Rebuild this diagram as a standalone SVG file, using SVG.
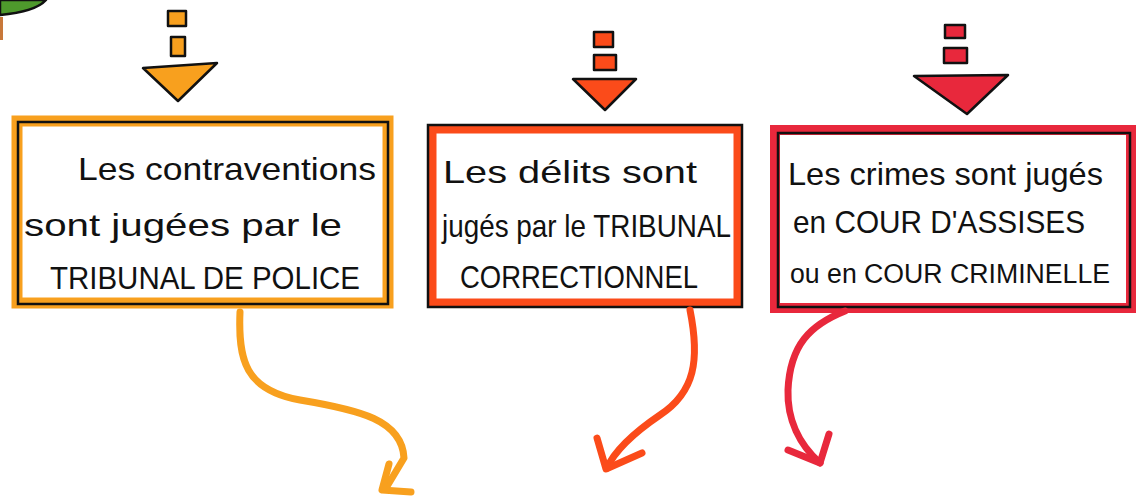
<svg xmlns="http://www.w3.org/2000/svg" width="1136" height="498" viewBox="0 0 1136 498">
<style>
.txt{font-family:"Liberation Sans","DejaVu Sans",sans-serif;font-size:32px;fill:#111}
.ink{stroke:#111;stroke-width:2.5;stroke-linejoin:round}
.frame{fill:#fff}
.line{fill:none;stroke:#111;stroke-width:2.5}
.conn{fill:none;stroke-width:7;stroke-linecap:round;stroke-linejoin:round}
</style>
<rect width="1136" height="498" fill="#fff"/>
<g id="leaf">
<path d="M0,0 L46,0 C38,9 22,13 0,15 Z" fill="#4e9a2c" class="ink"/>
<rect x="0" y="17" width="3" height="23" fill="#c8783a"/>
</g>
<g id="arrow1">
<rect x="168" y="11" width="18" height="15" fill="#f8a01e" class="ink"/>
<rect x="171" y="37" width="14" height="19" fill="#f8a01e" class="ink"/>
<path d="M143,68 L217,63 L178,101 Z" fill="#f8a01e" class="ink"/>
</g>
<g id="arrow2">
<rect x="594" y="32" width="19" height="15" fill="#fb4b1a" class="ink"/>
<rect x="594" y="55" width="22" height="15" fill="#fb4b1a" class="ink"/>
<path d="M573,79 L636,79 L605,110 Z" fill="#fb4b1a" class="ink"/>
</g>
<g id="arrow3">
<rect x="945" y="25" width="20" height="13" fill="#e8283c" class="ink"/>
<rect x="944" y="48" width="23" height="15" fill="#e8283c" class="ink"/>
<path d="M914,76 L1008,75 L967,114 Z" fill="#e8283c" class="ink"/>
</g>
<g id="box1">
<rect x="17" y="121" width="371" height="182" class="frame" stroke="#f8a01e" stroke-width="11"/>
<rect x="18" y="122" width="370" height="182" class="line"/>
<text class="txt" x="78" y="180" textLength="298" lengthAdjust="spacingAndGlyphs">Les contraventions</text>
<text class="txt" x="24" y="236" textLength="318" lengthAdjust="spacingAndGlyphs">sont jugées par le</text>
<text class="txt" x="50" y="289" textLength="310" lengthAdjust="spacingAndGlyphs">TRIBUNAL DE POLICE</text>
</g>
<g id="box2">
<rect x="432" y="129" width="306" height="174" class="frame" stroke="#fb4b1a" stroke-width="9"/>
<rect x="428" y="125" width="314" height="182" class="line"/>
<text class="txt" x="443" y="183" textLength="254" lengthAdjust="spacingAndGlyphs">Les délits sont</text>
<text class="txt" x="442" y="237" textLength="289" lengthAdjust="spacingAndGlyphs">jugés par le TRIBUNAL</text>
<text class="txt" x="460" y="288" textLength="238" lengthAdjust="spacingAndGlyphs">CORRECTIONNEL</text>
</g>
<g id="box3">
<rect x="775" y="130" width="356" height="178" class="frame" stroke="#e8283c" stroke-width="10"/>
<rect x="778" y="133" width="352" height="174" class="line"/>
<text class="txt" x="788" y="185" textLength="315" lengthAdjust="spacingAndGlyphs">Les crimes sont jugés</text>
<text class="txt" x="793" y="233" textLength="292" lengthAdjust="spacingAndGlyphs">en COUR D'ASSISES</text>
<text class="txt" x="790" y="283" font-size="27" style="font-size:27px" textLength="320" lengthAdjust="spacingAndGlyphs">ou en COUR CRIMINELLE</text>
</g>
<g id="connectors">
<path class="conn" stroke="#f8a01e" d="M240,312 C238,360 245,390 300,400 C360,410 402,420 404,458 L386,488"/>
<path class="conn" stroke="#f8a01e" d="M389,464 L382,490 L411,492"/>
<path class="conn" stroke="#fb4b1a" d="M690,310 C700,360 695,392 660,415 C635,432 615,450 607,468"/>
<path class="conn" stroke="#fb4b1a" d="M597,438 L606,469 L642,453"/>
<path class="conn" stroke="#e8283c" d="M845,311 C810,325 790,345 788,390 C787,420 800,445 820,463"/>
<path class="conn" stroke="#e8283c" d="M788,450 L820,463 L829,434"/>
</g>
</svg>
